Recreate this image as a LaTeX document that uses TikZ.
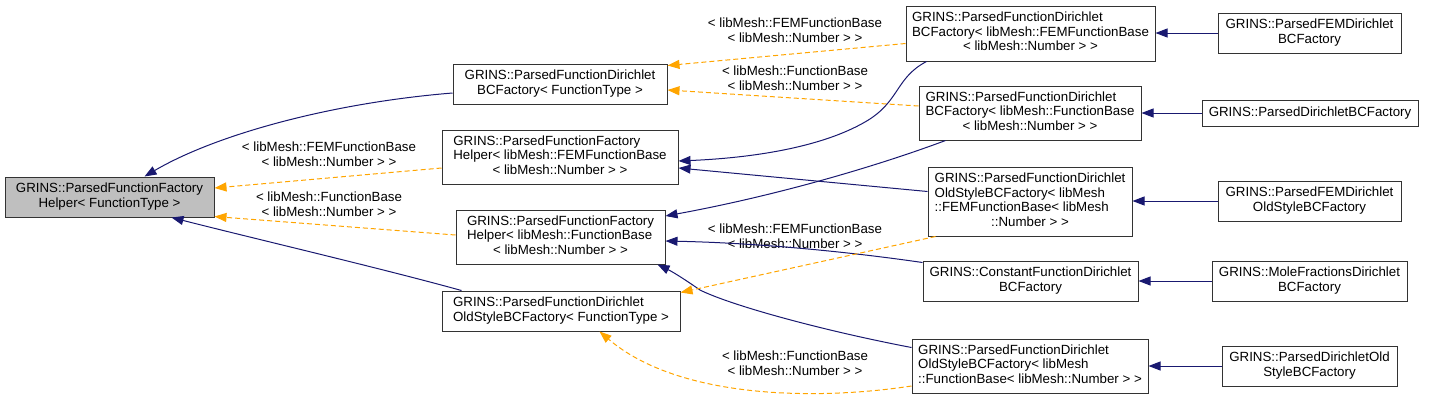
\documentclass[tikz,border=0pt]{standalone}
\usepackage{fontspec}
\setmainfont{Liberation Sans}
\usetikzlibrary{arrows.meta,calc}
\definecolor{navyedge}{RGB}{25,25,112}
\definecolor{orangeedge}{RGB}{255,165,0}
\definecolor{basefill}{RGB}{191,191,191}
\newcommand{\boxtxt}[2]{\begin{tabular}{@{}l@{}}#1\\\multicolumn{1}{@{}c@{}}{#2}\end{tabular}}
\tikzset{
  txtfont/.style={font=\fontsize{13.3}{14.5}\selectfont},
  cls/.style={draw=black!80, line width=1pt, fill=white, inner sep=0pt, txtfont},
  basecls/.style={cls, fill=basefill},
  inh/.style={navyedge, line width=1pt, -{Triangle[length=12pt,width=9pt]}},
  tmpl/.style={orangeedge, line width=1pt, dash pattern=on 5pt off 3pt, -{Triangle[length=12pt,width=9pt]}},
  lbl/.style={txtfont, align=center, inner sep=0pt}
}
\begin{document}
\begin{tikzpicture}[x=1pt,y=-1pt]
\useasboundingbox (0,0) rectangle (1447,400);
% nodes
\node[basecls, minimum width=209pt, minimum height=40pt] (A) at (109.5,197) {\boxtxt{GRINS::ParsedFunctionFactory}{Helper< FunctionType >}};
\node[cls, minimum width=214pt, minimum height=40pt] (B) at (560,84) {\boxtxt{GRINS::ParsedFunctionDirichlet}{BCFactory< FunctionType >}};
\node[cls, minimum width=236pt, minimum height=54pt] (C) at (560,157) {\boxtxt{GRINS::ParsedFunctionFactory\\Helper< libMesh::FEMFunctionBase}{< libMesh::Number > >}};
\node[cls, minimum width=209pt, minimum height=54pt] (D) at (560.5,237) {\boxtxt{GRINS::ParsedFunctionFactory\\Helper< libMesh::FunctionBase}{< libMesh::Number > >}};
\node[cls, minimum width=238pt, minimum height=40pt] (E) at (561,311) {\boxtxt{GRINS::ParsedFunctionDirichlet}{OldStyleBCFactory< FunctionType >}};
\node[cls, minimum width=249pt, minimum height=55pt] (F) at (1030.5,33.5) {\boxtxt{GRINS::ParsedFunctionDirichlet\\BCFactory< libMesh::FEMFunctionBase}{< libMesh::Number > >}};
\node[cls, minimum width=222pt, minimum height=54pt] (G) at (1030,113) {\boxtxt{GRINS::ParsedFunctionDirichlet\\BCFactory< libMesh::FunctionBase}{< libMesh::Number > >}};
\node[cls, minimum width=204pt, minimum height=69pt] (H) at (1030,201.5) {\boxtxt{GRINS::ParsedFunctionDirichlet\\OldStyleBCFactory< libMesh\\::FEMFunctionBase< libMesh}{::Number > >}};
\node[cls, minimum width=215pt, minimum height=40pt] (I) at (1030.5,281) {\boxtxt{GRINS::ConstantFunctionDirichlet}{BCFactory}};
\node[cls, minimum width=236pt, minimum height=54pt] (J) at (1030,366) {\boxtxt{GRINS::ParsedFunctionDirichlet\\OldStyleBCFactory< libMesh}{::FunctionBase< libMesh::Number > >}};
\node[cls, minimum width=183pt, minimum height=40pt] (K) at (1309.5,33) {\boxtxt{GRINS::ParsedFEMDirichlet}{BCFactory}};
\node[cls, minimum width=216pt, minimum height=26pt] (L) at (1310,113) {GRINS::ParsedDirichletBCFactory};
\node[cls, minimum width=183pt, minimum height=40pt] (M) at (1309.5,201) {\boxtxt{GRINS::ParsedFEMDirichlet}{OldStyleBCFactory}};
\node[cls, minimum width=195pt, minimum height=40pt] (N) at (1309.5,281) {\boxtxt{GRINS::MoleFractionsDirichlet}{BCFactory}};
\node[cls, minimum width=175pt, minimum height=40pt] (O) at (1309.5,366) {\boxtxt{GRINS::ParsedDirichletOld}{StyleBCFactory}};
% labels
\node[lbl] (l1) at (329,154) {< libMesh::FEMFunctionBase\\< libMesh::Number > >};
\node[lbl] (l2) at (329,204) {< libMesh::FunctionBase\\< libMesh::Number > >};
\node[lbl] (l3) at (795,30) {< libMesh::FEMFunctionBase\\< libMesh::Number > >};
\node[lbl] (l4) at (795,78) {< libMesh::FunctionBase\\< libMesh::Number > >};
\node[lbl] (l5) at (795,236) {< libMesh::FEMFunctionBase\\< libMesh::Number > >};
\node[lbl] (l6) at (795,363) {< libMesh::FunctionBase\\< libMesh::Number > >};
% edges to A
\draw[inh] ($(B.west)+(0,9)$) .. controls (330,103) and (215,135) .. ($(A.north west)+(140,0)$);
\draw[tmpl] ($(C.west)+(0,11)$) -- ($(A.east)+(0,-9)$);
\draw[tmpl] ($(D.west)+(0,-2)$) -- ($(A.south east)+(0,-1)$);
\draw[inh] ($(E.north west)+(20,0)$) .. controls (380,268) and (260,240) .. ($(A.south west)+(167,0)$);
% edges to B
\draw[tmpl] ($(F.west)+(0,10)$) -- ($(B.north east)+(0,2)$);
\draw[tmpl] ($(G.west)+(0,-7)$) -- ($(B.east)+(0,6)$);
% edges to C
\draw[inh] ($(F.south west)+(21,0)$) .. controls (895,78) and (900,102) .. (865,122) .. controls (820,148) and (750,158) .. ($(C.east)+(0,4)$);
\draw[inh] ($(H.west)+(0,-10)$) -- ($(C.east)+(0,11)$);
% edges to D
\draw[inh] ($(G.south west)+(27,0)$) .. controls (880,165) and (780,195) .. ($(D.east)+(0,-21)$);
\draw[inh] ($(I.north west)+(0,2)$) .. controls (850,252) and (760,243) .. ($(D.east)+(0,4)$);
\draw[inh] ($(J.north west)+(0,9)$) .. controls (820,330) and (730,305) .. (700,290) .. controls (690,283) and (675,273) .. ($(D.south east)+(-8,0)$);
% edges to E
\draw[tmpl] ($(H.south west)+(8,0)$) -- ($(E.north east)+(0,2)$);
\draw[tmpl] ($(J.west)+(0,20)$) .. controls (820,400) and (680,400) .. ($(E.south west)+(158,0)$);
% right column
\draw[inh] (K.west) -- (K.west -| F.east);
\draw[inh] (L.west) -- (L.west -| G.east);
\draw[inh] (M.west) -- (M.west -| H.east);
\draw[inh] (N.west) -- (N.west -| I.east);
\draw[inh] (O.west) -- (O.west -| J.east);
\end{tikzpicture}
\end{document}
